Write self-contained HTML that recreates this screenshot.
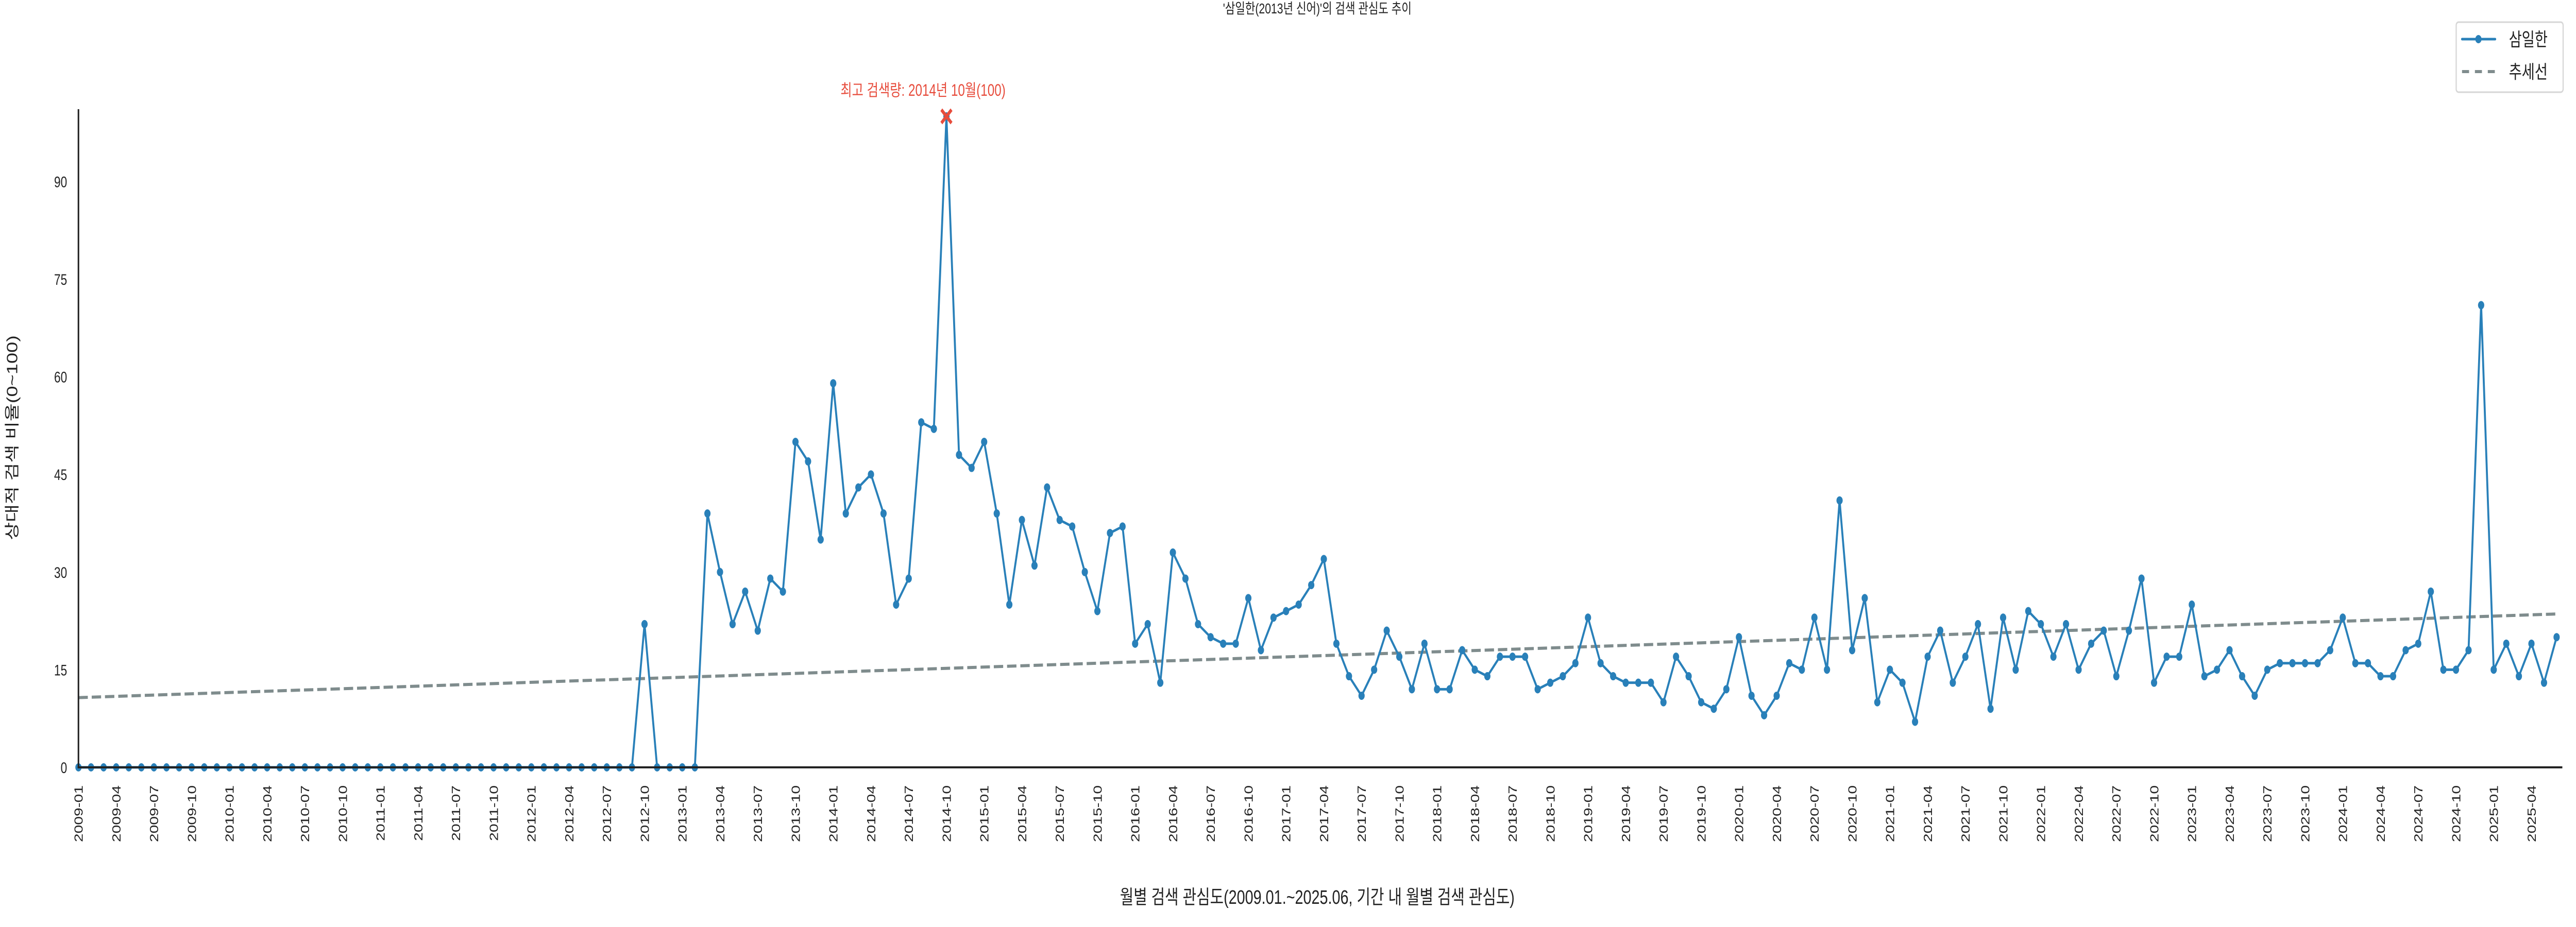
<!DOCTYPE html>
<html><head><meta charset="utf-8"><style>
html,body{margin:0;padding:0;background:#fff;overflow:hidden;width:100vw;height:100vh;}
svg{display:block;width:100vw;height:100vh;font-family:"Liberation Sans","Noto Sans CJK KR",sans-serif;}
</style></head><body>
<svg id="chart" viewBox="0 0 6600 1800" preserveAspectRatio="none" xmlns="http://www.w3.org/2000/svg">
<text x="3375" y="26" font-size="28" text-anchor="middle" fill="#222">'삼일한(2013년 신어)'의 검색 관심도 추이</text>
<text transform="translate(44,850) rotate(-90)" font-size="38" text-anchor="middle" fill="#222">상대적 검색 비율(0~100)</text>
<text x="3375" y="1755" font-size="38" text-anchor="middle" fill="#222">월별 검색 관심도(2009.01.~2025.06, 기간 내 월별 검색 관심도)</text>
<g id="yticks"></g>
<g id="xticks"></g>
<line id="trend" stroke="#7f8c8d" stroke-width="6" stroke-dasharray="24,10"/>
<polyline id="series" fill="none" stroke="#2980b9" stroke-width="5" stroke-linejoin="round"/>
<g id="points"></g>
<line x1="201" y1="212" x2="201" y2="1492" stroke="#222" stroke-width="4"/>
<line x1="199" y1="1490" x2="6565" y2="1490" stroke="#222" stroke-width="4"/>
<g id="peak"></g>
<g>
<rect x="6293" y="43" width="274" height="136" rx="6" fill="#fff" stroke="#d6d6d6" stroke-width="3"/>
<line x1="6308" y1="76" x2="6393" y2="76" stroke="#2980b9" stroke-width="5" stroke-linecap="round"/>
<circle cx="6350" cy="76" r="8" fill="#2980b9"/>
<text x="6428" y="89" font-size="36" fill="#222">삼일한</text>
<line x1="6308" y1="139" x2="6393" y2="139" stroke="#7f8c8d" stroke-width="6" stroke-dasharray="18,15"/>
<text x="6428" y="152" font-size="36" fill="#222">추세선</text>
</g>
</svg>
<script>
const yTickValues = [0,15,30,45,60,75,90];
const startYear = 2009, startMonth = 1;
const values = [
0,0,0,0,0,0,0,0,0,0,0,0,
0,0,0,0,0,0,0,0,0,0,0,0,
0,0,0,0,0,0,0,0,0,0,0,0,
0,0,0,0,0,0,0,0,0,22,0,0,
0,0,39,30,22,27,21,29,27,50,47,35,
59,39,43,45,39,25,29,53,52,100,48,46,
50,39,25,38,31,43,38,37,30,24,36,37,
19,22,13,33,29,22,20,19,19,26,18,23,
24,25,28,32,19,14,11,15,21,17,12,19,
12,12,18,15,14,17,17,17,12,13,14,16,
23,16,14,13,13,13,10,17,14,10,9,12,
20,11,8,11,16,15,23,15,41,18,26,10,
15,13,7,17,21,13,17,22,9,23,15,24,
22,17,22,15,19,21,14,21,29,13,17,17,
25,14,15,18,14,11,15,16,16,16,16,18,
23,16,16,14,14,18,19,27,15,15,18,71,
15,19,14,19,13,20];
const peakLabel = "최고 검색량: 2014년 10월(100)";

const NS="http://www.w3.org/2000/svg";
const X0=201, STEP=32.23, Y0=1490, YU=12.64;
const xs=i=>X0+i*STEP, ys=v=>Y0-v*YU;
function mk(tag,attrs,parent){const e=document.createElementNS(NS,tag);for(const k in attrs)e.setAttribute(k,attrs[k]);parent.appendChild(e);return e;}
const yt=document.getElementById('yticks');
yTickValues.forEach(v=>{const t=mk('text',{x:172,y:ys(v)+11,'font-size':30,'text-anchor':'end',fill:'#222'},yt);


t.textContent=v;});
const xt=document.getElementById('xticks');
for(let i=0;i<values.length;i+=3){const m=(startMonth-1+i)%12+1,y=startYear+Math.floor((startMonth-1+i)/12);
const lab=y+'-'+String(m).padStart(2,'0');
const t=mk('text',{transform:`translate(${xs(i)+11},1525) rotate(-90)`,'font-size':30,'text-anchor':'end',fill:'#222'},xt);


t.textContent=lab;}
document.getElementById('series').setAttribute('points',values.map((v,i)=>xs(i)+','+ys(v)).join(' '));
const pg=document.getElementById('points');
values.forEach((v,i)=>{const c=mk('circle',{cx:xs(i),cy:ys(v),r:8,fill:'#2980b9'},pg);

});
const n=values.length;let sx=0,sy=0,sxy=0,sxx=0;values.forEach((v,i)=>{sx+=i;sy+=v;sxy+=i*v;sxx+=i*i;});
const b=(n*sxy-sx*sy)/(n*sxx-sx*sx),a=(sy-b*sx)/n;
const tr=document.getElementById('trend');
tr.setAttribute('x1',xs(0));tr.setAttribute('y1',ys(a));tr.setAttribute('x2',xs(n-1));tr.setAttribute('y2',ys(a+b*(n-1)));
let pi=0;values.forEach((v,i)=>{if(v>values[pi])pi=i;});
const pk=document.getElementById('peak'),px=xs(pi),py=ys(values[pi]);
const m1=mk('path',{d:`M${px-13},${py-13}L${px+13},${py+13}M${px-13},${py+13}L${px+13},${py-13}`,stroke:'#e74c3c','stroke-width':7},pk);


const pt=mk('text',{x:px-60,y:py-40,'font-size':32,'text-anchor':'middle',fill:'#e74c3c'},pk);


pt.textContent=peakLabel;
</script>
</body></html>
